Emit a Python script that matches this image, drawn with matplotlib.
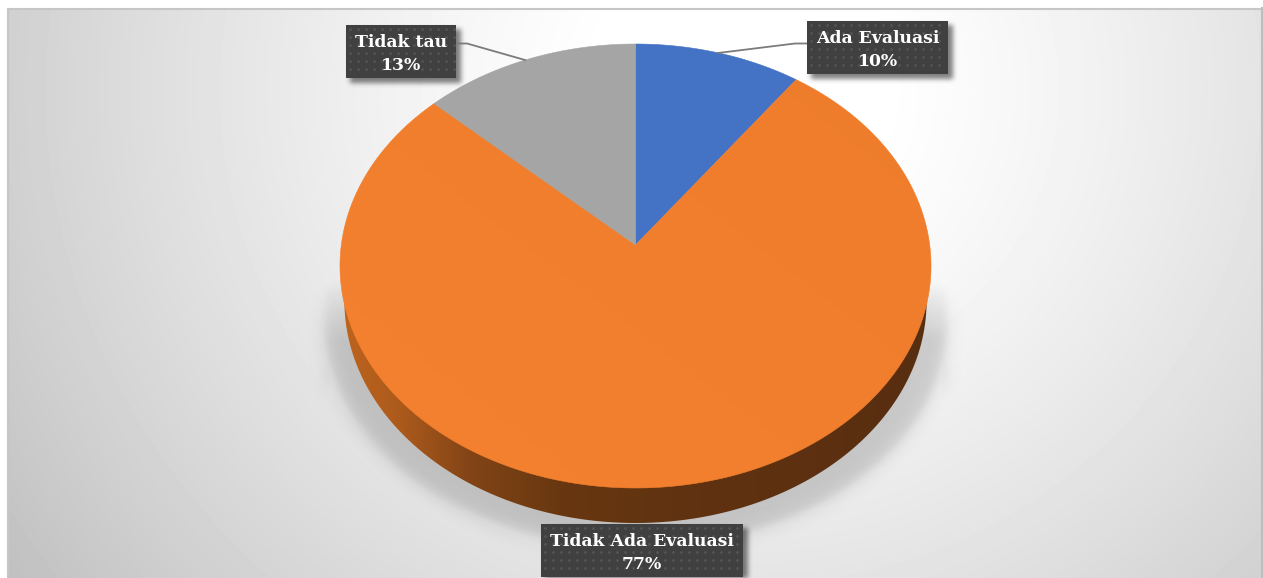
import numpy as np
import matplotlib
matplotlib.use('Agg')
import matplotlib.pyplot as plt
from matplotlib.patches import Polygon, Rectangle

W, H = 1263, 578

labels = ['Ada Evaluasi', 'Tidak Ada Evaluasi', 'Tidak tau']
values = [10, 77, 13]
colors = ['#4472c4', '#f4812f', '#a5a5a5']

# label boxes (left, top, right, bottom) in figure pixels
boxes = [(807, 21, 948, 74), (541, 524, 743, 577), (346, 25, 456, 78)]
leaders = [[(807, 43.5), (795, 43.5), (718, 53)],
           None,
           [(456, 43.5), (467, 43.5), (525, 60)]]

# tilted disc: apex, projection strengths
cx, cy = 635.5, 245
k = 0.0946
a_y = 220
a_x = 294.2
depth = 35
rim_scale = 0.985


def project(deg):
    t = np.radians(deg)
    u, v = np.sin(t), np.cos(t)
    d = 1 + k * v
    return cx + a_x * u / d, cy - a_y * v / d


def blur(img, s):
    n = int(3 * s)
    g = np.exp(-0.5 * (np.arange(-n, n + 1) / s) ** 2)
    g /= g.sum()
    img = np.apply_along_axis(lambda r: np.convolve(r, g, mode='same'), 0, img)
    img = np.apply_along_axis(lambda r: np.convolve(r, g, mode='same'), 1, img)
    return img


yy, xx = np.mgrid[0:H, 0:W]
ext = (0, W, H, 0)

fig = plt.figure(figsize=(W / 100, H / 100), dpi=100)
ax = fig.add_axes([0, 0, 1, 1])
ax.set_xlim(0, W)
ax.set_ylim(H, 0)
ax.axis('off')

# panel background, radial grey
dist = np.hypot(xx - 740, (yy - 90) * 1.05)
shade = np.clip(1.02 - 0.19 * (dist / 700) ** 1.4, 0, 1)
ax.imshow(shade, cmap='gray', vmin=0, vmax=1, extent=ext, aspect='auto', zorder=1)
ax.add_patch(Rectangle((0, 0), W, 8, fc='white', ec='none', zorder=2))
ax.add_patch(Rectangle((0, 0), 7, H, fc='white', ec='none', zorder=2))
ax.plot([7.5, 7.5, W], [H, 8.5, 8.5], c='#c6c6c6', lw=1.5, zorder=2)
ax.plot([W - 1, W - 1], [8, H], c='#bdbdbd', lw=1.5, zorder=2)

# soft shadow under the disc: tapered flaps at the sides plus a round part below
sx = np.interp(yy, [285, 385], [296, 314])
flap = ((np.abs(xx - cx) < sx) & (yy > 285) & (yy < 400)).astype(float)
flap *= np.clip((400 - yy) / 60.0, 0, 1)
round_part = (((xx - cx) / 311.0) ** 2 + ((yy - 322) / 224.0) ** 2 < 1) & (yy > 285)
alpha = np.maximum(0.3 * blur(flap, 3) + 0.7 * blur(flap, 10),
                   0.3 * blur(round_part.astype(float), 3) + 0.7 * blur(round_part.astype(float), 10))
alpha *= np.clip((yy - 270) / 70, 0, 1)
rgba = np.zeros((H, W, 4))
rgba[..., 3] = 0.17 * alpha
ax.imshow(rgba, extent=ext, aspect='auto', zorder=3)

# side wall of the disc
a = np.linspace(0, 360, 721)
rx, ry = project(a)
mid = 266
low = ry >= mid
order = np.argsort(a[low])
wall_x = cx + (rx[low][order] - cx) * rim_scale
wall_y = ry[low][order] + depth
pts = [(rx.max(), mid)] + list(zip(wall_x, wall_y)) + [(rx.min(), mid)]
wall = Polygon(pts, closed=True, transform=ax.transData, fc='none', ec='none')
ax.add_patch(wall)
grad = np.array([np.interp(np.arange(W), [340, 400, 470, 560, 700, 931], c)
                 for c in ([190, 172, 130, 104, 96, 88],
                           [100, 90, 68, 55, 50, 46],
                           [30, 28, 22, 16, 16, 16])]).T[None, :, :] / 255
im = ax.imshow(grad, extent=ext, aspect='auto', zorder=4)
im.set_clip_path(wall)

# slices, clockwise from twelve o'clock
start = 0
for val, col in zip(values, colors):
    sweep = 360.0 * val / sum(values)
    t = np.linspace(start, start + sweep, 200)
    px, py = project(t)
    poly = np.vstack([[cx, cy], np.column_stack([px, py])])
    piece = Polygon(poly, closed=True, fc=col, ec=col, lw=0.4, zorder=5)
    ax.add_patch(piece)
    if val == max(values):
        # large slice goes a touch darker towards the upper right
        tint = np.zeros((H, W, 4))
        tint[..., :3] = [0.85, 0.42, 0.12]
        tint[..., 3] = np.clip(((xx - 340) / 590.0 + (490 - yy) / 450.0) / 2, 0, 1) * 0.22
        ti = ax.imshow(tint, extent=ext, aspect='auto', zorder=5.5)
        ti.set_clip_path(piece)
    start += sweep

# drop shadows for the label boxes
lab_mask = np.zeros((H, W))
for l, t, r, b in boxes:
    lab_mask[t + 4:b + 5, l + 4:r + 5] = 1
rgba = np.zeros((H, W, 4))
rgba[..., 3] = 0.5 * blur(lab_mask, 2.5)
ax.imshow(rgba, extent=ext, aspect='auto', zorder=6)

for line in leaders:
    if line is not None:
        lx, ly = zip(*line)
        ax.plot(lx, ly, c='#7b7b7b', lw=1.3, zorder=7)

for name, val, (l, t, r, b) in zip(labels, values, boxes):
    ax.add_patch(Rectangle((l, t), r - l, b - t, fc='#404040', ec='none', zorder=8))
    dx, dy = np.meshgrid(np.arange(l + 4, r - 1, 8), np.arange(t + 4, b - 1, 8))
    ax.scatter(dx.ravel(), dy.ravel(), s=4, c='#545454', linewidths=0, zorder=9)
    ax.text((l + r) / 2, (t + b) / 2 + 2.5, '%s\n%d%%' % (name, val), color='white',
            family='DejaVu Serif', weight='bold', fontsize=12.4, ha='center',
            va='center', linespacing=1.42, zorder=10)

ax.set_xlim(0, W)
ax.set_ylim(H, 0)
fig.savefig('out.png', dpi=100)
